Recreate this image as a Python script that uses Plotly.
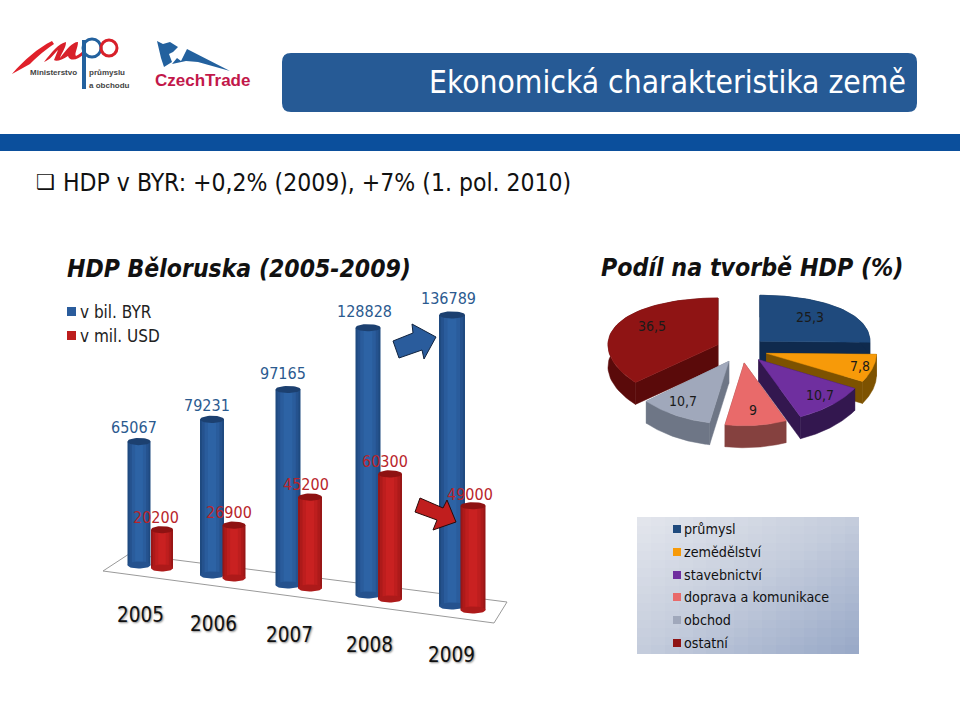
import numpy as np
import plotly.graph_objects as go

# ---- data ----
years = ["2005", "2006", "2007", "2008", "2009"]
byr_values = [65067, 79231, 97165, 128828, 136789]
usd_values = [20200, 26900, 45200, 60300, 49000]
series_names = ["v bil. BYR", "v mil. USD"]
pie_labels = ["průmysl", "zemědělství", "stavebnictví", "doprava a komunikace", "obchod", "ostatní"]
pie_values = [25.3, 7.8, 10.7, 9, 10.7, 36.5]
pie_tops = ["#1f4a7d", "#f79a09", "#6f2f9f", "#e96a6a", "#a0a8bb", "#8f1414"]
pie_sides = ["#0f2a4d", "#7d5200", "#33174f", "#85413f", "#6e7686", "#5a0a0a"]

# ---- layout constants (pixels of the 960x720 page) ----
FONT = "DejaVu Sans Condensed, Noto Sans, sans-serif"
LOGO_FONT = "Liberation Sans, sans-serif"
BLUE_X = [139, 212, 288, 368, 452]
RED_X = [162, 234, 310, 390, 473]
BLUE_W = [23, 24, 25, 25, 26]
RED_W = [22, 23, 24, 24, 25]
BLUE_BASE = [565, 575, 585, 595, 606]
RED_BASE = [568, 578, 588, 599, 610]
UNITS_PER_PX = [527, 509, 497, 482, 470]
BLUE_SHADES = ["#1f4a80", "#25528e", "#2a5c9c", "#2d63a5"]
RED_SHADES = ["#981616", "#ad1a1a", "#bd1e1e", "#c92121"]
SHADE_FRACTIONS = [1.0, 0.84, 0.62, 0.34]
BLUE_LABEL_POS = [(134, 427), (207, 405), (283, 373), (364, 311), (448, 298)]
RED_LABEL_POS = [(156, 517), (229, 512), (306, 484), (385, 461), (470, 494)]
YEAR_POS = [(140, 615), (213, 624), (289, 635), (369, 645), (451, 655)]
PIE_LABEL_POS = [(810, 317), (860, 366), (820, 395), (753, 410), (683, 401), (652, 326)]
LEGEND_Y = [529, 552, 575, 597, 620, 643]

fig = go.Figure()
shapes = []
ann = []


def text(x, y, s, size, color="#111", anchor="center", family=FONT, **kw):
    dx = {"left": -2, "right": 2}.get(anchor, 0)
    ann.append(dict(x=x + dx, y=y, xref="x", yref="y", text=s, showarrow=False, xanchor=anchor,
                    yanchor="middle", font=dict(size=size, color=color, family=family, **kw)))


def path(d, fill, line=None, width=0, layer="above"):
    shapes.append(dict(type="path", path=d, xref="x", yref="y", fillcolor=fill, layer=layer,
                       line=dict(color=line or fill, width=width)))


# ---- legend box gradient and pie (base subplot) ----
GRID = 16
gx = np.linspace(637, 859, GRID + 1)
gy = np.linspace(517, 654, GRID + 1)
gz = [[(i + j) / (2 * GRID - 2) for j in range(GRID)] for i in range(GRID)]
fig.add_trace(go.Heatmap(x=gx, y=gy, z=gz, zsmooth=False, showscale=False, hoverinfo="skip",
                         colorscale=[[0, "#e2e5ec"], [0.5, "#c4ccdc"], [1, "#9aaac8"]]))

PCX, PCY, RX = 741.5, 350, 110
EXPLODE, DEPTH = 0.235, 22


def project(u, v, dz=0):
    return PCX + RX * u, PCY + 54 * v + 6 * v * v + dz


def poly(xs, ys, color):
    fig.add_trace(go.Scatter(x=list(xs) + [xs[0]], y=list(ys) + [ys[0]], mode="lines", fill="toself",
                             fillcolor=color, line=dict(color=color, width=0.5), hoverinfo="skip"))


total = sum(pie_values)
starts = np.cumsum([0] + pie_values[:-1]) / total * 2 * np.pi
sweeps = np.array(pie_values) / total * 2 * np.pi
mids = starts + sweeps / 2
for i in np.argsort(-np.cos(mids)):
    t = np.linspace(starts[i], starts[i] + sweeps[i], 50)
    ou, ov = EXPLODE * np.sin(mids[i]), -EXPLODE * np.cos(mids[i])
    au, av = ou + np.sin(t), ov - np.cos(t)
    ax_, ay_ = project(au, av)
    cx_, cy_ = project(ou, ov)
    # radial walls
    for k in (0, -1):
        poly([cx_, ax_[k], ax_[k], cx_], [cy_, ay_[k], ay_[k] + DEPTH, cy_ + DEPTH], pie_sides[i])
    # outer band
    poly(np.r_[ax_, ax_[::-1]], np.r_[ay_, ay_[::-1] + DEPTH], pie_sides[i])
    # top face
    poly(np.r_[cx_, ax_], np.r_[cy_, ay_], pie_tops[i])

# ---- bars: each bar has its own value axis so perspective can shrink the scale ----
axis_defs = {}
axis_no = 2


def add_bar(cat, value, cx, w, base_px, k, shades, cap, name):
    global axis_no
    ya = f"y{axis_no}"
    axis_defs[f"yaxis{axis_no}"] = dict(range=[-(720 - base_px) * k, base_px * k], overlaying="y",
                                        visible=False, fixedrange=True)
    axis_no += 1
    for f, c in zip(SHADE_FRACTIONS, shades):
        fig.add_trace(go.Bar(x=[cx], y=[value], width=[w * f], marker=dict(color=c, line=dict(width=0)),
                             yaxis=ya, name=name, hoverinfo="skip"))
    th = np.linspace(0, 2 * np.pi, 40)
    ry = 3.6
    fig.add_trace(go.Scatter(x=cx + w / 2 * np.cos(th), y=k * ry * np.sin(th), mode="lines", fill="toself",
                             fillcolor=shades[1], line=dict(width=0), yaxis=ya, hoverinfo="skip"))
    fig.add_trace(go.Scatter(x=cx + w / 2 * np.cos(th), y=value + k * ry * np.sin(th), mode="lines",
                             fill="toself", fillcolor=cap, line=dict(width=0), yaxis=ya, hoverinfo="skip"))


for i, yr in enumerate(years):
    add_bar(yr, byr_values[i], BLUE_X[i], BLUE_W[i], BLUE_BASE[i], UNITS_PER_PX[i], BLUE_SHADES, "#1c4070", series_names[0])
for i, yr in enumerate(years):
    add_bar(yr, usd_values[i], RED_X[i], RED_W[i], RED_BASE[i], UNITS_PER_PX[i], RED_SHADES, "#8e1212", series_names[1])

# ---- floor of the bar chart ----
path("M103,571 L129,554 L507,602 L494,623 Z", "#ffffff", "#9a9a9a", 1, "below")

# ---- arrows ----
path("M393,341 L413,333 L412,324 L436,337 L424,359 L422,350 L399,358 Z", "#2a5c9c", "#10233f", 1)
path("M415,512 L420,498 L443,508 L447,500 L456,522 L433,530 L437,520 Z", "#c01e1e", "#2a0a0a", 1)

# ---- header ----
shapes.append(dict(type="rect", x0=0, x1=960, y0=134, y1=151, xref="x", yref="y", fillcolor="#0b4f9c",
                   line=dict(width=0), layer="below"))
r = 9
path(f"M{282+r},53 L{917-r},53 Q917,53 917,{53+r} L917,{112-r} Q917,112 {917-r},112 "
     f"L{282+r},112 Q282,112 282,{112-r} L282,{53+r} Q282,53 {282+r},53 Z", "#265a95", layer="below")
text(906, 82, "Ekonomická charakteristika země", 31.5, "#ffffff", "right")

# ---- logos ----
path("M12,74 C24,60 38,48 52,41 L54,44 C42,52 34,60 30,64 Z", "#e0202a", layer="below")
path("M44,62 C52,52 58,44 66,42 C66,48 62,52 60,58 C66,50 72,42 78,42 C78,48 74,54 76,56 "
     "C80,54 82,52 84,50 L84,54 C78,60 70,62 68,56 C62,60 56,62 54,60 L58,50 C54,54 50,60 44,62 Z",
     "#d8202a", layer="below")
shapes.append(dict(type="rect", x0=82, x1=86, y0=40, y1=89, xref="x", yref="y", fillcolor="#23619e",
                   line=dict(width=0), layer="below"))
shapes.append(dict(type="circle", x0=83, x1=101, y0=39, y1=57, xref="x", yref="y", fillcolor="rgba(0,0,0,0)",
                   line=dict(color="#23619e", width=3), layer="below"))
shapes.append(dict(type="circle", x0=101, x1=117, y0=40, y1=56, xref="x", yref="y", fillcolor="rgba(0,0,0,0)",
                   line=dict(color="#d8202a", width=3), layer="below"))
text(53, 72, "<b>Ministerstvo</b>", 8, "#444", family=LOGO_FONT)
text(89, 72, "<b>průmyslu</b>", 8, "#444", "left", family=LOGO_FONT)
text(89, 85, "<b>a obchodu</b>", 8, "#444", "left", family=LOGO_FONT)
path("M157,41 L163,44 L170,42 L178,47 L173,52 L169,54 L172,62 L164,67 L161,58 Z", "#23619e", layer="below")
path("M172,64 L177,58 L181,61 L187,49 L230,71 L198,62 L186,61 Z", "#23619e", layer="below")
text(202, 80, "<b>CzechTrade</b>", 17, "#c2184a", family=LOGO_FONT)

# ---- text lines ----
text(45, 182, "❑", 21, "#111", family="DejaVu Sans")
text(63, 182, "HDP v BYR: +0,2% (2009), +7% (1. pol. 2010)", 24.5, "#111", "left")
text(67, 268, "<b><i>HDP Běloruska (2005-2009)</i></b>", 24.5, "#111", "left")
text(601, 267, "<b><i>Podíl na tvorbě HDP (%)</i></b>", 24.7, "#111", "left")

# ---- series legend ----
for yy, name, c in zip((311.5, 335.5), series_names, (BLUE_SHADES[2], RED_SHADES[2])):
    shapes.append(dict(type="rect", x0=67, x1=76, y0=yy - 4.5, y1=yy + 4.5, xref="x", yref="y", fillcolor=c,
                       line=dict(width=0)))
    text(80, yy, name, 17, "#222", "left")

# ---- data labels ----
for v, (x, y) in zip(byr_values, BLUE_LABEL_POS):
    text(x, y, str(v), 16, "#2b5a8f")
for v, (x, y) in zip(usd_values, RED_LABEL_POS):
    text(x, y, str(v), 16, "#b8242a")
for yr, (x, y) in zip(years, YEAR_POS):
    text(x, y, yr, 20.5, "#111", shadow="1px 1px 2px #888")
for v, (x, y) in zip(pie_values, PIE_LABEL_POS):
    text(x, y, str(v).replace(".", ","), 14, "#1a1a1a")

# ---- pie legend ----
for yy, name, c in zip(LEGEND_Y, pie_labels, pie_tops):
    shapes.append(dict(type="rect", x0=673, x1=681, y0=yy - 4, y1=yy + 4, xref="x", yref="y", fillcolor=c,
                       line=dict(width=0)))
    text(684, yy, name, 14.2, "#111", "left")

fig.update_layout(
    width=960, height=720, margin=dict(l=0, r=0, t=0, b=0), autosize=False,
    paper_bgcolor="#ffffff", plot_bgcolor="#ffffff", showlegend=False, barmode="overlay",
    xaxis=dict(range=[0, 960], visible=False, fixedrange=True),
    yaxis=dict(range=[720, 0], visible=False, fixedrange=True),
    shapes=shapes, annotations=ann, **axis_defs,
)
fig.write_html("out.html", config=dict(displayModeBar=False),
               post_script="document.body.style.margin='0';")
